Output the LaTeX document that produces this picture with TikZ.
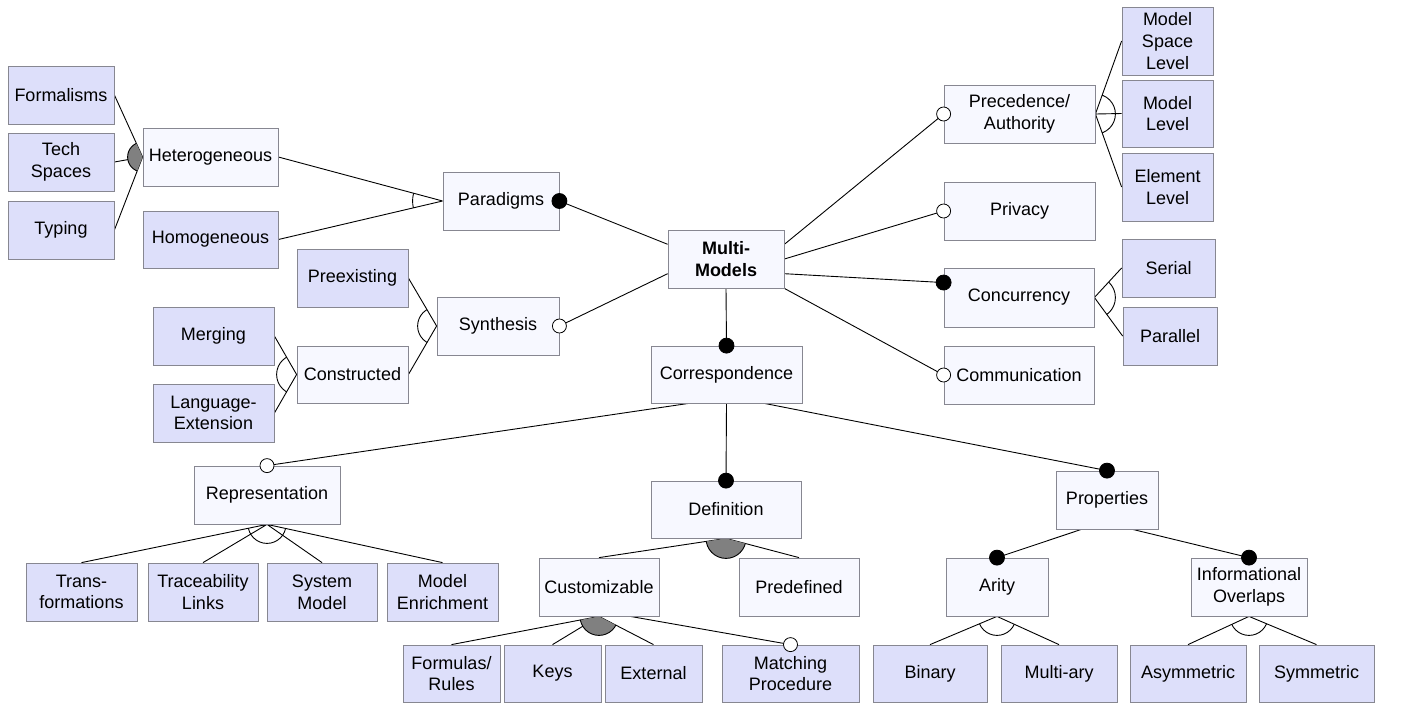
\documentclass[tikz,border=0pt]{standalone}
\usepackage{fontspec}
\setmainfont{Liberation Sans}
\usetikzlibrary{calc,backgrounds}

\definecolor{featfill}{RGB}{247,248,255}
\definecolor{leaffill}{RGB}{221,223,250}
\definecolor{boxline}{RGB}{135,135,145}
\definecolor{orgrey}{RGB}{128,128,128}

% feature box given by its corner coordinates (x1,y1)-(x2,y2)
\newcommand\featnode[7]{%
  \pgfmathsetmacro\fcx{(#3+#5)/2}%
  \pgfmathsetmacro\fcy{(#4+#6)/2}%
  \pgfmathsetmacro\fw{#5-#3}%
  \pgfmathsetmacro\fh{#6-#4}%
  \node[#1, minimum width=\fw pt, minimum height=\fh pt] (#2) at (\fcx,\fcy) {#7};}

% group arc: style, apex, first child point, last child point, radius
\newcommand\grouparc[5]{%
  \begin{scope}
    \clip (#2) -- ($(#2)!6!(#3)$) -- ($(#2)!6!(#4)$) -- cycle;
    \draw[#1] (#2) circle[radius=#5pt];
  \end{scope}}

\tikzset{
  base/.style={draw=boxline, line width=0.8pt, inner sep=0pt, align=center,
    font=\fontsize{18}{21.6}\selectfont},
  feat/.style={base, fill=featfill},
  leaf/.style={base, fill=leaffill},
  link/.style={draw=black, line width=0.9pt},
  mand/.style={fill=black, draw=black, line width=0.8pt},
  opt/.style={fill=white, draw=black, line width=0.8pt},
  altarc/.style={draw=black, line width=0.9pt},
  orarc/.style={draw=black, fill=orgrey, line width=0.9pt},
}

\begin{document}
\begin{tikzpicture}[x=1pt, y=-1pt]
\useasboundingbox (0,0) rectangle (1407,705);

% inner features
\featnode{feat}{het}{143}{128}{278}{186}{Heterogeneous}
\featnode{feat}{para}{443}{172}{559}{230}{Paradigms}
\featnode{feat, font=\fontsize{18}{21.6}\selectfont\bfseries}{mm}{668}{230}{784}{288}{Multi-\\Models}
\featnode{feat}{syn}{437}{297}{559}{355}{Synthesis}
\featnode{feat}{cons}{297}{346}{408}{403}{Constructed}
\featnode{feat}{prec}{944}{85}{1095}{143}{Precedence/\\Authority}
\featnode{feat}{priv}{944}{182}{1095}{240}{Privacy}
\featnode{feat}{conc}{944}{268}{1094}{327}{Concurrency}
\featnode{feat}{comm}{944}{346}{1094}{404}{Communication}
\featnode{feat}{corr}{651}{346}{802}{403}{Correspondence}
\featnode{feat}{repr}{194}{466}{340}{524}{Representation}
\featnode{feat}{defn}{651}{481}{801}{538}{Definition}
\featnode{feat}{cust}{539}{558}{659}{616}{Customizable}
\featnode{feat}{pred}{739}{558}{859}{616}{Predefined}
\featnode{feat}{prop}{1056}{471}{1158}{529}{Properties}
\featnode{feat}{arity}{946}{558}{1048}{616}{Arity}
\featnode{feat}{info}{1191}{558}{1307}{616}{Informational\\Overlaps}

% leaf features
\featnode{leaf}{form}{8}{66}{114}{124}{Formalisms}
\featnode{leaf}{tech}{8}{133}{114}{191}{Tech\\Spaces}
\featnode{leaf}{typ}{8}{201}{114}{259}{Typing}
\featnode{leaf}{homo}{143}{211}{278}{268}{Homogeneous}
\featnode{leaf}{pre}{297}{249}{408}{307}{Preexisting}
\featnode{leaf}{merg}{153}{307}{274}{365}{Merging}
\featnode{leaf}{lang}{153}{384}{274}{442}{Language-\\Extension}
\featnode{leaf}{msl}{1122}{7}{1213}{75}{Model\\Space\\Level}
\featnode{leaf}{ml}{1122}{80}{1213}{147}{Model\\Level}
\featnode{leaf}{el}{1122}{153}{1213}{221}{Element\\Level}
\featnode{leaf}{ser}{1122}{239}{1215}{297}{Serial}
\featnode{leaf}{par}{1123}{307}{1217}{365}{Parallel}
\featnode{leaf}{trans}{26}{563}{137}{621}{Trans-\\formations}
\featnode{leaf}{trace}{148}{563}{258}{621}{Traceability\\Links}
\featnode{leaf}{sysm}{267}{563}{377}{621}{System\\Model}
\featnode{leaf}{enr}{387}{563}{498}{621}{Model\\Enrichment}
\featnode{leaf}{fr}{403}{645}{500}{702}{Formulas/\\Rules}
\featnode{leaf}{keys}{504}{645}{601}{702}{Keys}
\featnode{leaf}{ext}{605}{645}{702}{702}{External}
\featnode{leaf}{match}{722}{645}{859}{702}{Matching\\Procedure}
\featnode{leaf}{bin}{873}{645}{987}{702}{Binary}
\featnode{leaf}{multi}{1001}{645}{1117}{702}{Multi-ary}
\featnode{leaf}{asym}{1130}{645}{1246}{702}{Asymmetric}
\featnode{leaf}{sym}{1259}{645}{1374}{702}{Symmetric}

% attachment points on box borders
\coordinate (mmL1) at ($(mm.north west)!0.25!(mm.south west)$);
\coordinate (mmL2) at ($(mm.north west)!0.75!(mm.south west)$);
\coordinate (mmR1) at ($(mm.north east)!0.25!(mm.south east)$);
\coordinate (mmR2) at ($(mm.north east)!0.5!(mm.south east)$);
\coordinate (mmR3) at ($(mm.north east)!0.75!(mm.south east)$);
\coordinate (concIn) at ($(conc.north west)!0.25!(conc.south west)$);
\coordinate (corrB1) at ($(corr.south west)!0.25!(corr.south east)$);
\coordinate (corrB2) at ($(corr.south west)!0.75!(corr.south east)$);
\coordinate (propB1) at ($(prop.south west)!0.25!(prop.south east)$);
\coordinate (propB2) at ($(prop.south west)!0.75!(prop.south east)$);
\coordinate (custB) at ($(cust.south west)!0.76!(cust.south east)$);

\begin{pgfonlayer}{background}
  % group edges
  \draw[link] (het.west) -- (form.east) (het.west) -- (tech.east) (het.west) -- (typ.east);
  \draw[link] (para.west) -- (het.east) (para.west) -- (homo.east);
  \draw[link] (syn.west) -- (pre.east) (syn.west) -- (cons.east);
  \draw[link] (cons.west) -- (merg.east) (cons.west) -- (lang.east);
  \draw[link] (prec.east) -- (msl.west) (prec.east) -- (ml.west) (prec.east) -- (el.west);
  \draw[link] (conc.east) -- (ser.west) (conc.east) -- (par.west);
  \draw[link] (repr.south) -- (trans.north) (repr.south) -- (trace.north)
              (repr.south) -- (sysm.north) (repr.south) -- (enr.north);
  \draw[link] (defn.south) -- (cust.north) (defn.south) -- (pred.north);
  \draw[link] (cust.south) -- (fr.north) (cust.south) -- (keys.north) (cust.south) -- (ext.north);
  \draw[link] (arity.south) -- (bin.north) (arity.south) -- (multi.north);
  \draw[link] (info.south) -- (asym.north) (info.south) -- (sym.north);

  % parent-child edges
  \draw[link] (mmL1) -- (para.east);
  \draw[link] (mmL2) -- (syn.east);
  \draw[link] (mmR1) -- (prec.west);
  \draw[link] (mmR2) -- (priv.west);
  \draw[link] (mmR3) -- (concIn);
  \draw[link] (mm.south east) -- (comm.west);
  \draw[link] (mm.south) -- (corr.north);
  \draw[link] (corrB1) -- (repr.north);
  \draw[link] (corr.south) -- (defn.north);
  \draw[link] (corrB2) -- (prop.north);
  \draw[link] (propB1) -- (arity.north);
  \draw[link] (propB2) -- (info.north);
  \draw[link] (custB) -- (match.north);

  % or / alternative groups
  \grouparc{orarc}{het.west}{form.east}{typ.east}{15}
  \grouparc{altarc}{para.west}{het.east}{homo.east}{30}
  \grouparc{altarc}{syn.west}{pre.east}{cons.east}{19}
  \grouparc{altarc}{cons.west}{merg.east}{lang.east}{20}
  \grouparc{altarc}{prec.east}{msl.west}{el.west}{20}
  \grouparc{altarc}{conc.east}{ser.west}{par.west}{21}
  \grouparc{altarc}{repr.south}{trans.north}{enr.north}{19}
  \grouparc{orarc}{defn.south}{cust.north}{pred.north}{20}
  \grouparc{orarc}{cust.south}{fr.north}{ext.north}{19}
  \grouparc{altarc}{arity.south}{bin.north}{multi.north}{19}
  \grouparc{altarc}{info.south}{asym.north}{sym.north}{19}
\end{pgfonlayer}

% mandatory and optional markers
\draw[mand] (para.east) circle[radius=7.5pt];
\draw[opt]  (syn.east) circle[radius=7pt];
\draw[opt]  (prec.west) circle[radius=7pt];
\draw[opt]  (priv.west) circle[radius=7pt];
\draw[mand] (concIn) circle[radius=7.5pt];
\draw[opt]  (comm.west) circle[radius=7pt];
\draw[mand] (corr.north) circle[radius=7.5pt];
\draw[opt]  (repr.north) circle[radius=7pt];
\draw[mand] (defn.north) circle[radius=7.5pt];
\draw[mand] (prop.north) circle[radius=7.5pt];
\draw[mand] (arity.north) circle[radius=7.5pt];
\draw[mand] (info.north) circle[radius=7.5pt];
\draw[opt]  (match.north) circle[radius=7pt];
\end{tikzpicture}
\end{document}
